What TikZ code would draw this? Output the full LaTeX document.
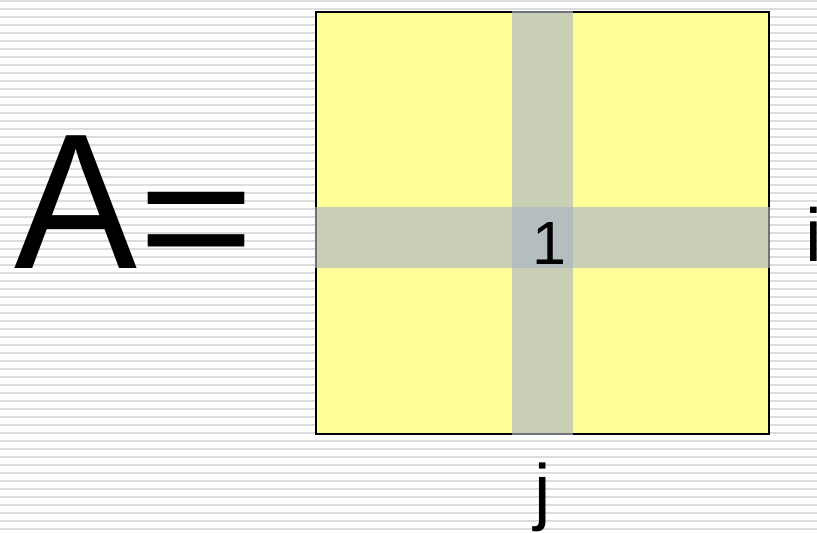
\documentclass[tikz,border=0pt]{standalone}
\usepackage{fontspec}
\setmainfont{Liberation Sans}
\definecolor{stripegray}{HTML}{DCDCDC}
\definecolor{matyellow}{HTML}{FFFF99}
\definecolor{bandcol}{RGB}{169,181,196}
\tikzset{
  stripe/.style={fill=stripegray},
  matrixbox/.style={fill=matyellow, draw=black, line width=1.5pt},
  band/.style={fill=bandcol, fill opacity=0.64},
  lbl/.style={inner sep=0pt, anchor=base, text=black}
}
\begin{document}
\begin{tikzpicture}[x=1pt, y=-1pt]
\useasboundingbox (0,0) rectangle (817,533);
\fill[white] (0,0) rectangle (817,533);
\foreach \k in {0,...,66} {
  \fill[stripe] (0,8*\k) rectangle (817,8*\k+2);
}
\draw[matrixbox] (316,12) rectangle (769,434);
\fill[band] (512,11) rectangle (573,435);
\fill[band] (315,207) rectangle (770,268);
\node[lbl, anchor=base west] (lhsA) at (14,268) {\scalebox{0.955}[1]{\fontsize{193}{193}\selectfont A}};
\node[lbl, anchor=base west] (lhseq) at (138,275) {\scalebox{1.03}[0.88]{\fontsize{193}{193}\selectfont =}};
\node[lbl] (one) at (549,264) {\fontsize{61}{61}\selectfont 1};
\node[lbl, anchor=base west] (ilab) at (805,261) {\fontsize{75}{75}\selectfont i};
\node[lbl] (jlab) at (543,516) {\fontsize{74}{74}\selectfont j};
\end{tikzpicture}
\end{document}
